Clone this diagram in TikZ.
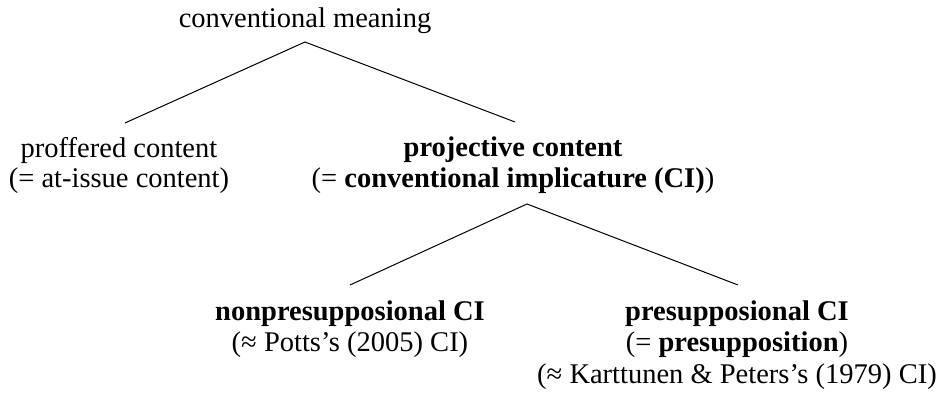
\documentclass[tikz,border=0pt]{standalone}
\usepackage{fontspec}
\setmainfont{Liberation Serif}
\begin{document}
\begin{tikzpicture}[x=1pt,y=-1pt,
  txt/.style={anchor=base,inner sep=0pt,font=\fontsize{28.5}{30}\selectfont},
  edge/.style={line width=1pt,black}]
\useasboundingbox (0,0) rectangle (943,395);
% nodes
\node[txt] (root) at (305,28) {conventional meaning};
\node[txt] (prof1) at (119,158) {proffered content};
\node[txt] (prof2) at (119,188) {(= at-issue content)};
\node[txt] (proj1) at (513,157) {\textbf{projective content}};
\node[txt] (proj2) at (513,188) {(= \textbf{conventional implicature (CI)})};
\node[txt] (non1) at (350,321) {\textbf{nonpresupposional CI}};
\node[txt] (non2) at (350,352) {(≈ Potts’s (2005) CI)};
\node[txt] (pre1) at (737,321) {\textbf{presupposional CI}};
\node[txt] (pre2) at (737,352) {(= \textbf{presupposition})};
\node[txt] (pre3) at (737,384) {(≈ Karttunen \& Peters’s (1979) CI)};
% connector points
\coordinate (rootb) at (305,42);
\coordinate (proft) at (125,123);
\coordinate (projt) at (515,122);
\coordinate (projb) at (527,204);
\coordinate (nont) at (350,285);
\coordinate (pret) at (738,285);
\draw[edge] (proft) -- (rootb) -- (projt);
\draw[edge] (nont) -- (projb) -- (pret);
\end{tikzpicture}
\end{document}
